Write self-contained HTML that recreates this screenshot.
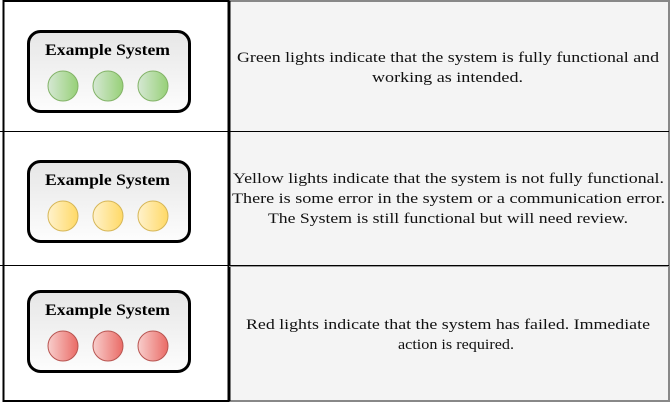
<!DOCTYPE html>
<html><head><meta charset="utf-8"><style>
html,body{margin:0;padding:0;background:#fff;width:671px;height:403px;overflow:hidden}
text{font-family:"Liberation Serif",serif}
</style></head><body>
<svg width="671" height="403" viewBox="0 0 671 403" xmlns="http://www.w3.org/2000/svg">
<defs>
<linearGradient id="bg" x1="0" y1="0" x2="0" y2="1"><stop offset="0" stop-color="#e6e6e6"/><stop offset="1" stop-color="#fdfdfd"/></linearGradient>
<linearGradient id="g" x1="0" y1="0" x2="1" y2="0"><stop offset="0" stop-color="#d5e8d4"/><stop offset="1" stop-color="#97d077"/></linearGradient>
<linearGradient id="y" x1="0" y1="0" x2="1" y2="0"><stop offset="0" stop-color="#fff2cc"/><stop offset="1" stop-color="#ffd966"/></linearGradient>
<linearGradient id="r" x1="0" y1="0" x2="1" y2="0"><stop offset="0" stop-color="#f8cecc"/><stop offset="1" stop-color="#ea6b66"/></linearGradient>
</defs>
<rect x="229" y="1" width="440" height="400" fill="#f4f4f4" stroke="#888" stroke-width="2"/>
<rect x="3.5" y="1" width="225" height="400" fill="#fff" stroke="#000" stroke-width="2"/>
<line x1="229" y1="1" x2="229" y2="401" stroke="#000" stroke-width="3"/>
<line x1="0" y1="131.5" x2="669" y2="131.5" stroke="#000" stroke-width="1"/>
<line x1="0" y1="265.5" x2="669" y2="265.5" stroke="#000" stroke-width="1"/>
<line x1="229" y1="266.5" x2="669" y2="266.5" stroke="#999" stroke-width="1"/>

<g>
<rect x="28.5" y="31.5" width="161" height="80" rx="12" fill="url(#bg)" stroke="#000" stroke-width="3"/>
<text x="45" y="55" font-size="16" font-weight="bold" textLength="125" lengthAdjust="spacingAndGlyphs">Example System</text>
<circle cx="63" cy="86" r="15" fill="url(#g)" stroke="#82b366"/>
<circle cx="108" cy="86" r="15" fill="url(#g)" stroke="#82b366"/>
<circle cx="153" cy="86" r="15" fill="url(#g)" stroke="#82b366"/>
</g>
<g>
<rect x="28.5" y="161.5" width="161" height="80" rx="12" fill="url(#bg)" stroke="#000" stroke-width="3"/>
<text x="45" y="185" font-size="16" font-weight="bold" textLength="125" lengthAdjust="spacingAndGlyphs">Example System</text>
<circle cx="63" cy="216" r="15" fill="url(#y)" stroke="#d6b656"/>
<circle cx="108" cy="216" r="15" fill="url(#y)" stroke="#d6b656"/>
<circle cx="153" cy="216" r="15" fill="url(#y)" stroke="#d6b656"/>
</g>
<g>
<rect x="28.5" y="291.5" width="161" height="80" rx="12" fill="url(#bg)" stroke="#000" stroke-width="3"/>
<text x="45" y="315" font-size="16" font-weight="bold" textLength="125" lengthAdjust="spacingAndGlyphs">Example System</text>
<circle cx="63" cy="346" r="15" fill="url(#r)" stroke="#b85450"/>
<circle cx="108" cy="346" r="15" fill="url(#r)" stroke="#b85450"/>
<circle cx="153" cy="346" r="15" fill="url(#r)" stroke="#b85450"/>
</g>

<g font-size="15" fill="#111" lengthAdjust="spacingAndGlyphs">
<text x="237" y="62" textLength="422" lengthAdjust="spacingAndGlyphs">Green lights indicate that the system is fully functional and</text>
<text x="372" y="82" textLength="151" lengthAdjust="spacingAndGlyphs">working as intended.</text>
<text x="233" y="183" textLength="431" lengthAdjust="spacingAndGlyphs">Yellow lights indicate that the system is not fully functional.</text>
<text x="232" y="203" textLength="433" lengthAdjust="spacingAndGlyphs">There is some error in the system or a communication error.</text>
<text x="268" y="223" textLength="360" lengthAdjust="spacingAndGlyphs">The System is still functional but will need review.</text>
<text x="246" y="329" textLength="404" lengthAdjust="spacingAndGlyphs">Red lights indicate that the system has failed. Immediate</text>
<text x="398" y="349" textLength="116" lengthAdjust="spacingAndGlyphs">action is required.</text>
</g>
</svg>
</body></html>
